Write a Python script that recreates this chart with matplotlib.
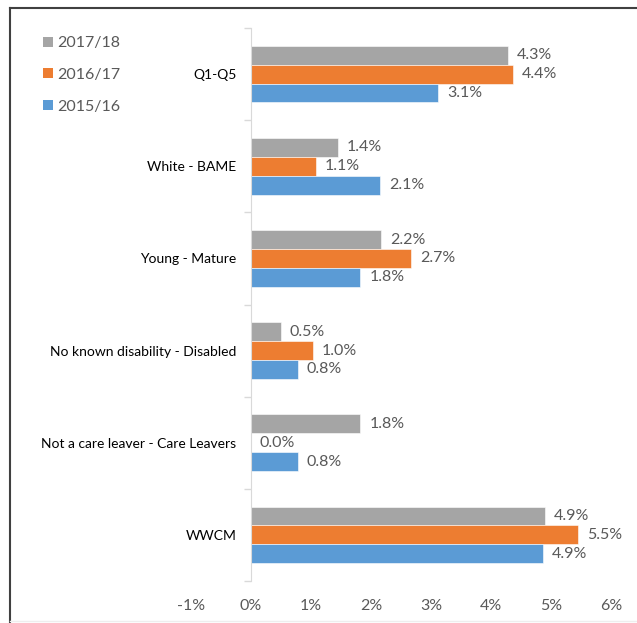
import numpy as np
import matplotlib
matplotlib.use('Agg')
import matplotlib.pyplot as plt
from matplotlib.lines import Line2D
from matplotlib.patches import Patch

# Data (percentage points)
categories = ['Q1-Q5', 'White - BAME', 'Young - Mature', 'No known disability - Disabled',
              'Not a care leaver - Care Leavers', 'WWCM']
gap_1718 = [4.28, 1.45, 2.17, 0.50, 1.82, 4.90]
gap_1617 = [4.37, 1.08, 2.67, 1.03, 0.00, 5.45]
gap_1516 = [3.12, 2.15, 1.82, 0.78, 0.78, 4.86]
series_names = ['2017/18', '2016/17', '2015/16']
tick_vals = [-1, 0, 1, 2, 3, 4, 5, 6]

plt.rcParams['font.family'] = ['Lato', 'DejaVu Sans']
text_col = '#595959'
colors = ['#A5A5A5', '#ED7D31', '#5B9BD5']
fs = 11.5

fig = plt.figure(figsize=(6.37, 6.23), dpi=100)
ax = fig.add_axes([191 / 637, 1 - 581 / 623, 420 / 637, 553 / 623])

y = np.arange(len(categories))
h = 0.205
series = [gap_1718, gap_1617, gap_1516]
for i, (vals, name, col) in enumerate(zip(series, series_names, colors)):
    pos = y + (i - 1) * h
    ax.barh(pos, vals, height=h, color=col, edgecolor='white', linewidth=0.4, label=name)
    for p, v in zip(pos, vals):
        ax.text(max(v, 0) + 0.15, p, f'{v:.1f}%', va='center', ha='left',
                fontsize=fs, color=text_col)

ax.set_xlim(-1, 6)
ax.set_ylim(len(categories) - 0.5, -0.5)
ax.set_xticks(tick_vals)
ax.set_xticklabels([f'{t}%' for t in tick_vals], fontsize=fs, color=text_col)
ax.tick_params(axis='x', length=0, pad=13)

# category labels on the left, boundary ticks on the spine
ax.set_yticks(y)
ax.set_yticklabels(categories, fontsize=fs, color=text_col)
ax.tick_params(axis='y', length=0, pad=10.5)
ax.set_yticks(np.arange(-0.5, len(categories)), minor=True)
ax.tick_params(axis='y', which='minor', length=5, color='#d9d9d9', width=1)

for s in ['top', 'right', 'bottom']:
    ax.spines[s].set_visible(False)
ax.spines['left'].set_position(('data', 0))
ax.spines['left'].set_color('#d9d9d9')

# legend at top-left of the figure
handles = [Patch(facecolor=c, edgecolor='none') for c in colors]
fig.legend(handles, series_names, loc='upper left', bbox_to_anchor=(29 / 637, 1 - 22 / 623),
           frameon=False, fontsize=fs, labelcolor=text_col, handlelength=0.6,
           handleheight=0.6, handletextpad=0.25, labelspacing=1.1)

# outer frame
fig.add_artist(Line2D([10 / 637, 10 / 637], [1 - 8 / 623, 0], transform=fig.transFigure,
                      color='#404040', linewidth=1.5))
fig.add_artist(Line2D([10 / 637, 1], [1 - 8 / 623, 1 - 8 / 623], transform=fig.transFigure,
                      color='#404040', linewidth=1.5))
fig.add_artist(Line2D([10 / 637, 1], [1 - 621 / 623, 1 - 621 / 623], transform=fig.transFigure,
                      color='#eeeeee', linewidth=1))

fig.savefig('out.png', dpi=100)
